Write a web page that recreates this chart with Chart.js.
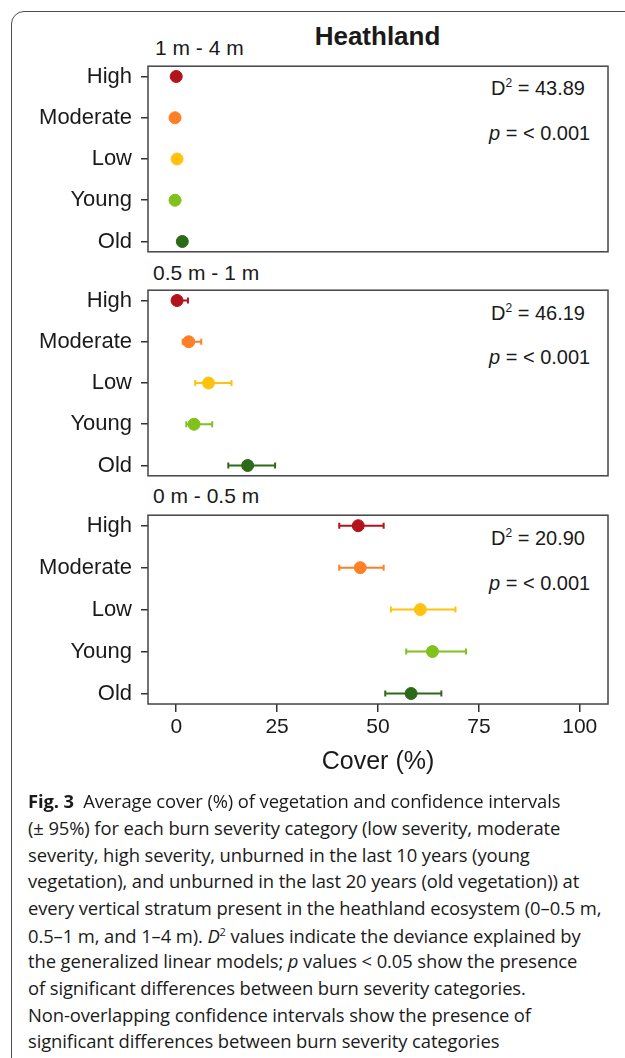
<!DOCTYPE html>
<html>
<head>
<meta charset="utf-8">
<script src="https://cdn.jsdelivr.net/npm/chart.js@4.4.1/dist/chart.umd.min.js"></script>
<style>
  body { margin: 0; background: #fff; width: 625px; height: 1058px; overflow: hidden; position: relative;
         font-family: 'Liberation Sans', Arial, sans-serif; color: #1a1a1a; }
  .frame { position: absolute; left: 11px; top: 11px; width: 700px; height: 1100px;
           border: 1.3px solid #4d4d4d; border-radius: 13px; }
  canvas { position: absolute; left: 0; }
  .txt { position: absolute; white-space: nowrap; line-height: 1; }
  .stat { font-size: 20px; }
  .stat sup { font-size: 12px; vertical-align: 0; position: relative; top: -8px; }
  .cap { position: absolute; left: 28px; white-space: nowrap; line-height: 1;
         font-family: 'Open Sans', sans-serif; font-size: 18.4px; color: #1a1a1a; letter-spacing: -0.1px; }
</style>
</head>
<body>
<div class="frame"></div>

<div class="txt" style="left:0; width:755px; text-align:center; top:23px; font-size:26px; font-weight:bold;">Heathland</div>

<div class="txt" id="lab0" style="left:155px; top:37px; font-size:21px;"></div>
<div class="txt" id="lab1" style="left:153px; top:262px; font-size:21px;"></div>
<div class="txt" id="lab2" style="left:153px; top:485px; font-size:21px;"></div>

<div class="txt stat" id="d0" style="left:491px; top:78px;"></div>
<div class="txt stat" id="p0" style="left:489px; top:123px;"></div>
<div class="txt stat" id="d1" style="left:491px; top:303px;"></div>
<div class="txt stat" id="p1" style="left:489px; top:347px;"></div>
<div class="txt stat" id="d2" style="left:491px; top:528px;"></div>
<div class="txt stat" id="p2" style="left:489px; top:573px;"></div>

<canvas id="c0" width="625" height="230" style="top:44px"></canvas>
<canvas id="c1" width="625" height="230" style="top:268px"></canvas>
<canvas id="c2" width="625" height="291" style="top:493px"></canvas>

<div class="cap" style="top:792px"><b>Fig. 3</b>&ensp;Average cover (%) of vegetation and confidence intervals</div>
<div class="cap" style="top:819px">(± 95%) for each burn severity category (low severity, moderate</div>
<div class="cap" style="top:846px">severity, high severity, unburned in the last 10 years (young</div>
<div class="cap" style="top:872px">vegetation), and unburned in the last 20 years (old vegetation)) at</div>
<div class="cap" style="top:899px">every vertical stratum present in the heathland ecosystem (0–0.5 m,</div>
<div class="cap" style="top:926px">0.5–1 m, and 1–4 m). <i>D</i><sup style="font-size:11px">2</sup> values indicate the deviance explained by</div>
<div class="cap" style="top:952px">the generalized linear models; <i>p</i> values &lt; 0.05 show the presence</div>
<div class="cap" style="top:979px">of significant differences between burn severity categories.</div>
<div class="cap" style="top:1006px">Non-overlapping confidence intervals show the presence of</div>
<div class="cap" style="top:1032px">significant differences between burn severity categories</div>

<script>
// categorias (de cima para baixo) e cores
const categories = ['High', 'Moderate', 'Low', 'Young', 'Old'];
const colors = ['#b3131b', '#ff7f27', '#ffc20e', '#80c11c', '#2c6a18'];
const strata = ['1 m - 4 m', '0.5 m - 1 m', '0 m - 0.5 m'];
const xTicks = [0, 25, 50, 75, 100];

// 1 m - 4 m
const cover1 = [0.0, -0.3, 0.2, -0.3, 1.5];
const lower1 = [-0.6, -0.8, -0.3, -0.8, 0.9];
const upper1 = [0.6, 0.3, 0.7, 0.3, 2.2];
// 0.5 m - 1 m
const cover2 = [0.2, 3.1, 8.0, 4.4, 17.7];
const lower2 = [-0.8, 1.6, 4.7, 2.5, 12.9];
const upper2 = [2.9, 6.2, 13.7, 8.9, 24.5];
// 0 m - 0.5 m
const cover3 = [45.1, 45.6, 60.5, 63.5, 58.2];
const lower3 = [40.4, 40.4, 53.2, 57.0, 51.8];
const upper3 = [51.4, 51.4, 69.2, 71.8, 65.7];

const d2Values = ['43.89', '46.19', '20.90'];
const pValues = ['< 0.001', '< 0.001', '< 0.001'];

const errorBars = {
    id: 'errorBars',
    beforeDatasetsDraw(chart, args, opts) {
        const { ctx, scales: { x, y } } = chart;
        ctx.save();
        ctx.lineWidth = 2;
        opts.lower.forEach((lo, i) => {
            const py = y.getPixelForValue(i);
            const x0 = x.getPixelForValue(lo);
            const x1 = x.getPixelForValue(opts.upper[i]);
            ctx.strokeStyle = colors[i];
            ctx.beginPath();
            ctx.moveTo(x0, py); ctx.lineTo(x1, py);
            ctx.moveTo(x0, py - 3); ctx.lineTo(x0, py + 3);
            ctx.moveTo(x1, py - 3); ctx.lineTo(x1, py + 3);
            ctx.stroke();
        });
        ctx.restore();
    }
};

const frameBox = {
    id: 'frameBox',
    afterDraw(chart) {
        const { ctx, chartArea: a } = chart;
        ctx.save();
        ctx.strokeStyle = '#444';
        ctx.lineWidth = 1.5;
        ctx.strokeRect(a.left, a.top, a.right - a.left, a.bottom - a.top);
        ctx.restore();
    }
};

function criarPainel(id, cover, lower, upper, mostrarX) {
    const ctx = document.getElementById(id).getContext('2d');
    return new Chart(ctx, {
        type: 'scatter',
        data: {
            datasets: [{
                data: cover.map((v, i) => ({ x: v, y: i })),
                pointRadius: 6,
                pointBackgroundColor: colors,
                pointBorderColor: colors,
                pointBorderWidth: 1
            }]
        },
        options: {
            responsive: false,
            animation: false,
            events: [],
            layout: { padding: { top: 20, bottom: mostrarX ? 0 : 20, left: 0, right: 17 } },
            plugins: {
                legend: { display: false },
                tooltip: { enabled: false },
                errorBars: { lower: lower, upper: upper }
            },
            scales: {
                x: {
                    type: 'linear',
                    min: -7,
                    max: 107,
                    display: mostrarX,
                    afterBuildTicks: s => { s.ticks = xTicks.map(v => ({ value: v })); },
                    afterFit: s => { s.height = mostrarX ? 80 : 0; },
                    grid: { drawOnChartArea: false, tickLength: 8, color: '#333', lineWidth: 1.5 },
                    border: { display: false },
                    ticks: { padding: 3, color: '#1a1a1a', maxRotation: 0,
                             font: { size: 21, family: "'Liberation Sans', Arial, sans-serif" } },
                    title: { display: true, text: 'Cover (%)', color: '#1a1a1a', padding: { top: 0, bottom: 7 },
                             font: { size: 25, family: "'Liberation Sans', Arial, sans-serif" } }
                },
                y: {
                    type: 'linear',
                    min: -0.25,
                    max: 4.25,
                    reverse: true,
                    afterBuildTicks: s => { s.ticks = categories.map((c, i) => ({ value: i })); },
                    afterFit: s => { s.width = 148; },
                    grid: { drawOnChartArea: false, tickLength: 7, color: '#333', lineWidth: 1.5 },
                    border: { display: false },
                    ticks: {
                        padding: 9,
                        autoSkip: false,
                        color: '#1a1a1a',
                        font: { size: 22, family: "'Liberation Sans', Arial, sans-serif" },
                        callback: v => categories[v]
                    }
                }
            }
        },
        plugins: [errorBars, frameBox]
    });
}

strata.forEach((s, i) => { document.getElementById('lab' + i).textContent = s; });
d2Values.forEach((d, i) => {
    document.getElementById('d' + i).innerHTML = 'D<sup>2</sup> = ' + d;
    document.getElementById('p' + i).innerHTML = '<i>p</i> = ' + pValues[i];
});

criarPainel('c0', cover1, lower1, upper1, false);
criarPainel('c1', cover2, lower2, upper2, false);
criarPainel('c2', cover3, lower3, upper3, true);
</script>
</body>
</html>
